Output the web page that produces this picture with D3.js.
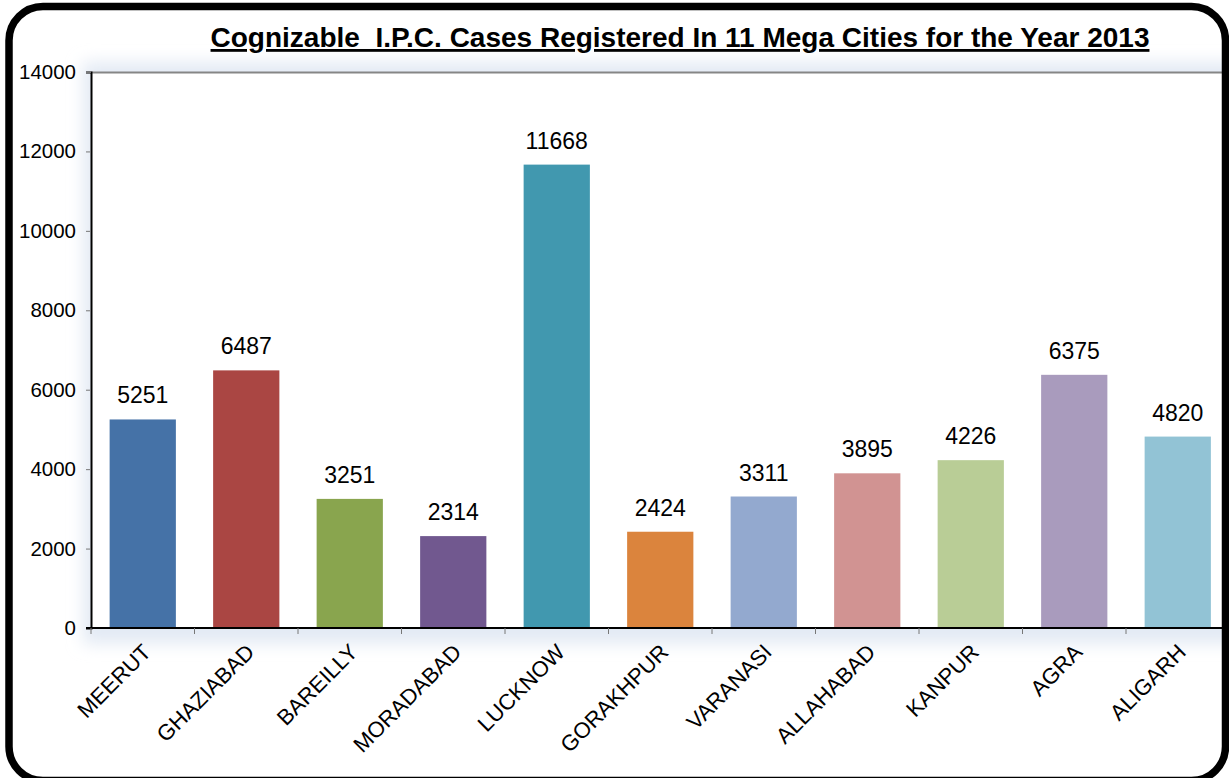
<!DOCTYPE html>
<html>
<head>
<meta charset="utf-8">
<script src="https://cdn.jsdelivr.net/npm/d3@7"></script>
<style>
  body { margin: 0; background: #fff; }
  svg { display: block; font-family: "Liberation Sans", Arial, sans-serif; }
</style>
</head>
<body>
<div id="chart"></div>
<script>
var cities = ["MEERUT", "GHAZIABAD", "BAREILLY", "MORADABAD", "LUCKNOW", "GORAKHPUR",
              "VARANASI", "ALLAHABAD", "KANPUR", "AGRA", "ALIGARH"];
var cases = [5251, 6487, 3251, 2314, 11668, 2424, 3311, 3895, 4226, 6375, 4820];
var barColors = ["#4572A7", "#AA4643", "#89A54E", "#71588F", "#4198AF", "#DB843D",
                 "#93A9CF", "#D19392", "#B9CD96", "#A99BBD", "#92C3D5"];
var yTicks = [0, 2000, 4000, 6000, 8000, 10000, 12000, 14000];

var W = 1229, H = 778;
var margin = {top: 72, right: -0.5, bottom: 150, left: 91};
var width = W - margin.left - margin.right;
var height = H - margin.top - margin.bottom;

var svg = d3.select("#chart").append("svg")
    .attr("width", W)
    .attr("height", H);

var defs = svg.append("defs");
var blur = defs.append("filter").attr("id", "soft")
    .attr("x", "-10%").attr("y", "-10%").attr("width", "120%").attr("height", "120%");
blur.append("feGaussianBlur").attr("stdDeviation", 8);

// soft shadow behind the plot area
svg.append("rect")
    .attr("x", margin.left - 8).attr("y", margin.top - 10)
    .attr("width", width + 20).attr("height", height + 26)
    .style("fill", "#e3eaf4")
    .attr("filter", "url(#soft)");

var g = svg.append("g")
    .attr("transform", "translate(" + margin.left + "," + margin.top + ")");

g.append("rect")
    .attr("width", width).attr("height", height)
    .style("fill", "#fff");

var x = d3.scaleBand()
    .domain(cities)
    .range([0, width])
    .padding(0);

var y = d3.scaleLinear()
    .domain([0, 14000])
    .range([height, 0]);

var barW = x.bandwidth() * 0.64;

// top border of plot area
g.append("line")
    .attr("x1", 0).attr("x2", width)
    .attr("y1", 0.5).attr("y2", 0.5)
    .style("stroke", "#868686")
    .style("stroke-width", 2);

g.selectAll(".bar")
    .data(cases)
  .enter().append("rect")
    .attr("class", "bar")
    .attr("x", function(d, i) { return x(cities[i]) + (x.bandwidth() - barW) / 2; })
    .attr("y", function(d) { return y(d); })
    .attr("width", barW)
    .attr("height", function(d) { return height - y(d); })
    .style("fill", function(d, i) { return barColors[i]; });

// value labels
g.selectAll(".val")
    .data(cases)
  .enter().append("text")
    .attr("class", "val")
    .attr("x", function(d, i) { return x(cities[i]) + x.bandwidth() / 2; })
    .attr("y", function(d) { return y(d) - 16; })
    .attr("text-anchor", "middle")
    .style("font-size", "23px")
    .style("fill", "#000")
    .text(function(d) { return d; });

// y axis
var yAxis = g.append("g")
    .call(d3.axisLeft(y).tickValues(yTicks).tickSize(5).tickPadding(10).tickFormat(d3.format("d")));
yAxis.select(".domain").style("stroke", "#000").style("stroke-width", 2);
yAxis.selectAll(".tick line").style("stroke", "#777");
yAxis.selectAll(".tick text").style("font-size", "20.5px").style("fill", "#000");

// x axis
var xAxis = g.append("g")
    .attr("transform", "translate(0," + height + ")");
xAxis.append("line")
    .attr("x1", -5).attr("x2", width)
    .style("stroke", "#000").style("stroke-width", 2);
xAxis.selectAll(".xtick")
    .data(cities.concat(["end"]))
  .enter().append("line")
    .attr("x1", function(d, i) { return i * x.step(); })
    .attr("x2", function(d, i) { return i * x.step(); })
    .attr("y1", 0).attr("y2", 6)
    .style("stroke", "#777");
xAxis.selectAll(".xlab")
    .data(cities)
  .enter().append("text")
    .attr("text-anchor", "end")
    .attr("transform", function(d) {
      return "translate(" + (x(d) + x.bandwidth() / 2 + 4) + ",20) rotate(-45)";
    })
    .attr("dy", "0.35em")
    .style("font-size", "22px")
    .style("fill", "#000")
    .text(function(d) { return d; });

// title
svg.append("text")
    .attr("x", 680)
    .attr("y", 47)
    .attr("text-anchor", "middle")
    .attr("xml:space", "preserve")
    .style("font-size", "28px")
    .style("font-weight", "bold")
    .style("text-decoration", "underline")
    .style("white-space", "pre")
    .style("fill", "#000")
    .text("Cognizable  I.P.C. Cases Registered In 11 Mega Cities for the Year 2013");

// outer frame, drawn last so it sits over the plot edge
svg.append("rect")
    .attr("x", 9).attr("y", 6.5)
    .attr("width", 1216.5).attr("height", 774)
    .attr("rx", 34).attr("ry", 34)
    .style("fill", "none")
    .style("stroke", "#000")
    .style("stroke-width", 7.5);
</script>
</body>
</html>
